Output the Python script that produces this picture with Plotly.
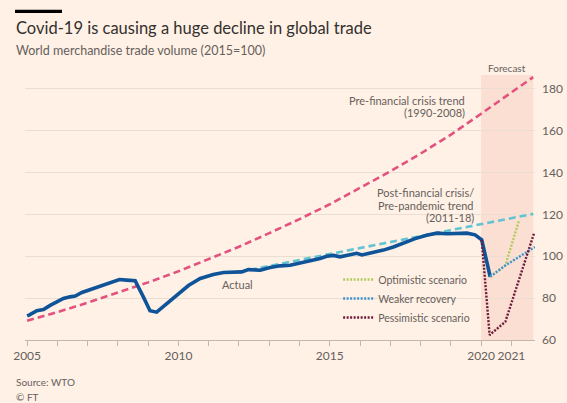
import plotly.graph_objects as go

# ---- data (world merchandise trade volume, 2015 = 100) ----
actual_x = [2005.00, 2005.08, 2005.32, 2005.54, 2005.76, 2005.98, 2006.20, 2006.42, 2006.59,
            2006.81, 2007.03, 2007.30, 2007.58, 2007.80, 2008.05, 2008.29, 2008.57, 2008.84,
            2009.06, 2009.28, 2009.62, 2009.95, 2010.33, 2010.72, 2011.15, 2011.49, 2011.82,
            2012.09, 2012.31, 2012.70, 2013.03, 2013.36, 2013.69, 2014.02, 2014.35, 2014.68,
            2014.90, 2015.12, 2015.34, 2015.67, 2015.89, 2016.06, 2016.44, 2016.77, 2017.10,
            2017.43, 2017.82, 2018.20, 2018.54, 2018.87, 2019.20, 2019.53, 2019.80, 2020.02,
            2020.30]
actual_y = [71.5, 72.0, 74.0, 74.6, 76.5, 78.3, 79.8, 80.6, 81.0,
            82.7, 83.8, 84.9, 86.2, 87.3, 88.9, 88.6, 88.3, 80.6,
            74.0, 73.3, 77.5, 81.8, 86.0, 89.4, 91.3, 92.2, 92.2,
            92.5, 93.6, 93.3, 94.6, 95.4, 95.7, 96.8, 97.6, 98.9,
            100.0, 100.4, 99.7, 100.9, 101.4, 100.6, 101.6, 102.9, 104.4,
            106.3, 108.4, 110.0, 111.0, 110.7, 111.0, 111.0, 110.2, 107.8,
            90.2]

pre_crisis_x = [2005, 2006, 2007, 2008, 2009, 2010, 2011, 2012, 2013, 2014, 2015,
                2016, 2017, 2018, 2019, 2020, 2021, 2021.72]
pre_crisis_y = [69.2, 73.3, 77.8, 82.5, 87.5, 92.8, 98.5, 104.5, 111.0, 117.7, 124.8,
                132.5, 140.5, 149.0, 158.0, 168.0, 178.0, 185.5]

post_crisis_x = [2012, 2014, 2016, 2018, 2020, 2021.72]
post_crisis_y = [92.5, 98.2, 103.8, 109.6, 115.3, 120.2]

optimistic_x = [2020.30, 2020.80, 2021.25]
optimistic_y = [90.2, 95.6, 117.0]

weaker_x = [2020.30, 2020.80, 2021.78]
weaker_y = [90.2, 95.6, 104.4]

pessimistic_x = [2020.02, 2020.28, 2020.80, 2021.75]
pessimistic_y = [107.8, 62.4, 68.7, 111.0]

forecast_span = [2020.0, 2021.72]

year_ticks = list(range(2005, 2022))
year_labels = ["2005", "", "", "", "", "2010", "", "", "", "", "2015",
               "", "", "", "", "2020", "2021"]
value_ticks = [60, 80, 100, 120, 140, 160, 180]

# ---- style ----
PAPER = "#FFF1E5"
GRID = "#EADDD2"
AXIS = "#C2B6AC"
MUTED = "#66605C"
INK = "#33302E"
FONT = "Lato"

fig = go.Figure()

fig.add_trace(go.Scatter(x=pre_crisis_x, y=pre_crisis_y, mode="lines",
                         line=dict(color="#E3527F", width=2.6, dash="7px,4px"),
                         showlegend=False, hoverinfo="skip"))
fig.add_trace(go.Scatter(x=post_crisis_x, y=post_crisis_y, mode="lines",
                         line=dict(color="#62C4D3", width=2.6, dash="7px,4px"),
                         showlegend=False, hoverinfo="skip"))
fig.add_trace(go.Scatter(x=actual_x, y=actual_y, mode="lines",
                         line=dict(color="#0F5499", width=3.6),
                         showlegend=False, hoverinfo="skip"))
fig.add_trace(go.Scatter(x=optimistic_x, y=optimistic_y, mode="lines",
                         name="Optimistic scenario",
                         line=dict(color="#B3CB5E", width=2.4, dash="2px,1.5px")))
fig.add_trace(go.Scatter(x=weaker_x, y=weaker_y, mode="lines",
                         name="Weaker recovery",
                         line=dict(color="#3C93CF", width=2.4, dash="2px,1.5px")))
fig.add_trace(go.Scatter(x=pessimistic_x, y=pessimistic_y, mode="lines",
                         name="Pessimistic scenario",
                         line=dict(color="#6E1A3A", width=2.4, dash="2px,1.5px")))

# forecast band
fig.add_shape(type="rect", xref="x", yref="paper",
              x0=forecast_span[0], x1=forecast_span[1], y0=0, y1=1,
              fillcolor="#FADFD2", line_width=0, layer="below")
# short black rule above the headline
fig.add_shape(type="rect", xref="paper", yref="paper",
              x0=-0.0196, x1=0.0725, y0=1.234, y1=1.246,
              fillcolor="#000000", line_width=0)


def note(text, x, y, size=11, color=MUTED, xanchor="left", yanchor="middle"):
    fig.add_annotation(text=text, x=x, y=y, xref="paper", yref="paper",
                       xanchor=xanchor, yanchor=yanchor, showarrow=False,
                       font=dict(family=FONT, size=size, color=color))


note("Covid-19 is causing a huge decline in global trade", -0.0216, 1.177, size=16.5, color=INK)
note("World merchandise trade volume (2015=100)", -0.0216, 1.094, size=12.5)
note("Source: WTO", -0.0216, -0.158, size=10)
note("© FT", -0.0216, -0.215, size=10)
note("Forecast", 0.945, 1.026, size=10, xanchor="center")
note("Pre-financial crisis trend", 0.867, 0.902, xanchor="right")
note("(1990-2008)", 0.867, 0.857, xanchor="right")
note("Post-financial crisis/", 0.884, 0.555, xanchor="right")
note("Pre-pandemic trend", 0.884, 0.506, xanchor="right")
note("(2011-18)", 0.884, 0.464, xanchor="right")
note("Actual", 0.416, 0.208, xanchor="center")

fig.update_layout(
    width=567, height=403,
    margin=dict(l=25, r=32, t=75, b=63),
    paper_bgcolor=PAPER, plot_bgcolor=PAPER,
    font=dict(family=FONT, size=12, color=MUTED),
    legend=dict(x=0.614, y=0.283, xanchor="left", yanchor="top",
                bgcolor="rgba(0,0,0,0)", font=dict(family=FONT, size=10.5, color=MUTED),
                itemwidth=30),
    xaxis=dict(range=[2004.93, 2021.78], tickvals=year_ticks, ticktext=year_labels,
               tickangle=0, automargin=False,
               showgrid=False, zeroline=False, showline=True, linecolor=AXIS, linewidth=1,
               ticks="outside", ticklen=5, tickcolor=AXIS, tickwidth=1,
               tickfont=dict(family=FONT, size=12, color=MUTED)),
    yaxis=dict(range=[60, 186.5], tickvals=value_ticks, side="right", automargin=False,
               showgrid=True, gridcolor=GRID, gridwidth=1, zeroline=False,
               showline=False, ticks="", ticklabelstandoff=6,
               tickfont=dict(family=FONT, size=12, color=MUTED)),
)

fig.write_html("out.html")
